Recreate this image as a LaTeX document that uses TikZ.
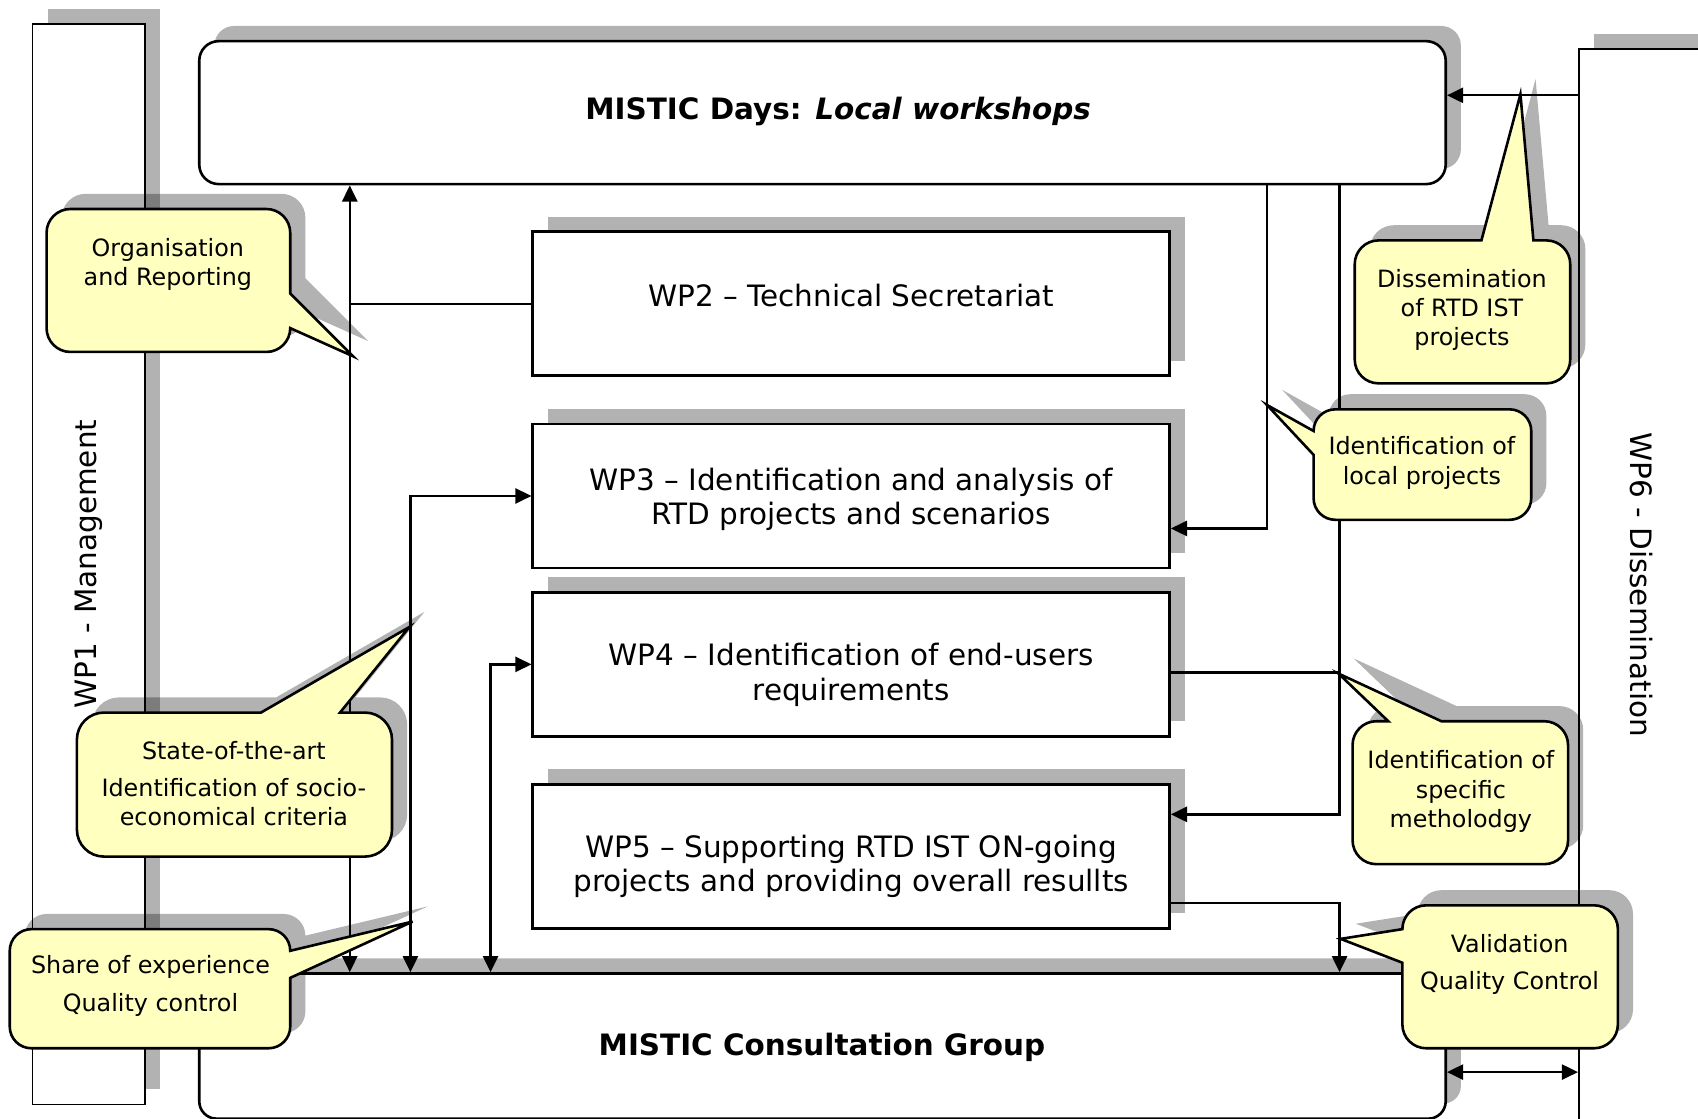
\documentclass[tikz,border=0pt]{standalone}
\usepackage{fontspec}
\setmainfont{DejaVu Sans}
\usetikzlibrary{arrows.meta,shadows}
\definecolor{calloutyellow}{HTML}{FFFFC0}
\tikzset{
  shadowfill/.style={fill=black, fill opacity=0.3, draw=none},
  boxshadow/.style={general shadow={shadow xshift=7pt, shadow yshift=7pt, fill=black, opacity=0.3}},
  wpbox/.style={draw, line width=1.2pt, fill=white, minimum width=294pt, minimum height=66.5pt, inner sep=0pt, boxshadow},
  sidebox/.style={draw, line width=0.8pt, fill=white, inner sep=0pt, boxshadow},
  bigbox/.style={draw, line width=1.2pt, fill=white, inner sep=0pt, minimum width=575.5pt, boxshadow},
  maintxt/.style={font=\fontsize{13.6}{16}\selectfont, align=center, inner sep=0pt},
  titletxt/.style={font=\fontsize{13.6}{16}\selectfont\bfseries, align=center, inner sep=0pt},
  calltxt/.style={font=\fontsize{11}{13.5}\selectfont, align=center, inner sep=0pt},
  callout/.style={draw, line width=1.2pt, fill=calloutyellow, line join=miter},
  conn/.style={line width=1.1pt},
  >={Triangle[length=7.5pt,width=7pt]}
}
\newcommand{\mycallout}[1]{\fill[shadowfill, shift={(14,-14)}] #1; \draw[callout] #1;}
\begin{document}
\begin{tikzpicture}[x=0.5pt,y=-0.5pt]
\useasboundingbox (0,0) rectangle (1568,1033);
\fill[white] (0,0) rectangle (1568,1033);

% side work packages
\node[sidebox, minimum width=52pt, minimum height=499pt] (wp1) at (82,521) {};
\node[maintxt, rotate=90] (wp1t) at (82,521) {WP1 - Management};
\node[sidebox, minimum width=66pt, minimum height=502.5pt] (wp6) at (1524,547.5) {};
\node[maintxt, rotate=-90] (wp6t) at (1516,540) {WP6 - Dissemination};

% big rounded boxes
\node[bigbox, rounded corners=9pt, minimum height=66pt] (md) at (759.5,104) {};
\node[titletxt] (mdt) at (774,103) {MISTIC Days: \textit{Local workshops}};
\node[bigbox, rounded corners=8pt, minimum height=67pt] (mcg) at (759.5,966) {};
\node[titletxt] (mcgt) at (759,967) {MISTIC Consultation Group};

% WP boxes
\node[wpbox] (wp2) at (786,280.5) {};
\node[maintxt] (wp2t) at (786,273) {WP2 – Technical Secretariat};
\node[wpbox] (wp3) at (786,458) {};
\node[maintxt] (wp3t) at (786,461) {WP3 – Identification and analysis of\\RTD projects and scenarios};
\node[wpbox] (wp4) at (786,613.5) {};
\node[maintxt] (wp4t) at (786,623) {WP4 – Identification of end-users\\requirements};
\node[wpbox] (wp5) at (786,791) {};
\node[maintxt] (wp5t) at (786,800) {WP5 – Supporting RTD IST ON-going\\projects and providing overall resullts};

% helper coordinates
\coordinate (xa) at (323,0);
\coordinate (xc) at (379,0);
\coordinate (xd) at (453,0);
\coordinate (xe) at (1170,0);
\coordinate (xf) at (1237,0);
\coordinate (ya) at (0,488);
\coordinate (yb) at (0,621);
\coordinate (yc) at (0,752);
\coordinate (yd) at (0,834);
\coordinate (ye) at (0,88);
\coordinate (yf) at (0,990);

% connectors
\draw[conn,<->] (xa |- md.south) -- (xa |- mcg.north);
\draw[conn] (wp2.west) -- (xa |- wp2.west);
\draw[conn,<->] (wp3.west) -- (xc |- wp3.west) -- (xc |- mcg.north);
\draw[conn,<->] (wp4.west) -- (xd |- wp4.west) -- (xd |- mcg.north);
\draw[conn,->] (xe |- md.south) -- (xe |- ya) -- (wp3.east |- ya);
\draw[conn,->] (xf |- md.south) -- (xf |- yc) -- (wp5.east |- yc);
\draw[conn] (wp4.east |- yb) -- (xf |- yb);
\draw[conn,->] (wp5.east |- yd) -- (xf |- yd) -- (xf |- mcg.north);
\draw[conn,->] (wp6.west |- ye) -- (md.east |- ye);
\draw[conn,<->] (mcg.east |- yf) -- (wp6.west |- yf);

% callouts
\mycallout{(65,193) -- (246,193) arc[start angle=270,end angle=360,radius=22] -- (268,271) -- (326,329) -- (268,303) arc[start angle=0,end angle=90,radius=22] -- (65,325) arc[start angle=90,end angle=180,radius=22] -- (43,215) arc[start angle=180,end angle=270,radius=22] -- cycle}
\node[calltxt] (c1) at (155,244) {Organisation\\and Reporting};

\mycallout{(1273,222) -- (1368,222) -- (1404,87) -- (1416,222) -- (1428,222) arc[start angle=270,end angle=360,radius=22] -- (1450,332) arc[start angle=0,end angle=90,radius=22] -- (1273,354) arc[start angle=90,end angle=180,radius=22] -- (1251,244) arc[start angle=180,end angle=270,radius=22] -- cycle}
\node[calltxt] (c2) at (1350,286) {Dissemination\\of RTD IST\\projects};

\mycallout{(1233,378) -- (1394,378) arc[start angle=270,end angle=360,radius=20] -- (1414,460) arc[start angle=0,end angle=90,radius=20] -- (1233,480) arc[start angle=90,end angle=180,radius=20] -- (1213,420) -- (1170,374) -- (1213,398) arc[start angle=180,end angle=270,radius=20] -- cycle}
\node[calltxt] (c3) at (1313,427.5) {Identification of\\local projects};

\mycallout{(96,658) -- (241,658) -- (378,579) -- (314,658) -- (337,658) arc[start angle=270,end angle=360,radius=25] -- (362,766) arc[start angle=0,end angle=90,radius=25] -- (96,791) arc[start angle=90,end angle=180,radius=25] -- (71,683) arc[start angle=180,end angle=270,radius=25] -- cycle}
\node[calltxt] (c4) at (216,724) {State-of-the-art\\[3.5pt]Identification of socio-\\economical criteria};

\mycallout{(29,858) -- (248,858) arc[start angle=270,end angle=360,radius=20] -- (381,851) -- (268,903) -- (268,948) arc[start angle=0,end angle=90,radius=20] -- (29,968) arc[start angle=90,end angle=180,radius=20] -- (9,878) arc[start angle=180,end angle=270,radius=20] -- cycle}
\node[calltxt] (c5) at (139,910.5) {Share of experience\\[4pt]Quality control};

\mycallout{(1271,666) -- (1282,666) -- (1236,622) -- (1331,666) -- (1426,666) arc[start angle=270,end angle=360,radius=22] -- (1448,776) arc[start angle=0,end angle=90,radius=22] -- (1271,798) arc[start angle=90,end angle=180,radius=22] -- (1249,688) arc[start angle=180,end angle=270,radius=22] -- cycle}
\node[calltxt] (c6) at (1349,731) {Identification of\\specific\\metholodgy};

\mycallout{(1317,836) -- (1472,836) arc[start angle=270,end angle=360,radius=22] -- (1494,946) arc[start angle=0,end angle=90,radius=22] -- (1317,968) arc[start angle=90,end angle=180,radius=22] -- (1295,889) -- (1238,867) -- (1295,858) arc[start angle=180,end angle=270,radius=22] -- cycle}
\node[calltxt] (c7) at (1394,890.5) {Validation\\[3.5pt]Quality Control};
\end{tikzpicture}
\end{document}
